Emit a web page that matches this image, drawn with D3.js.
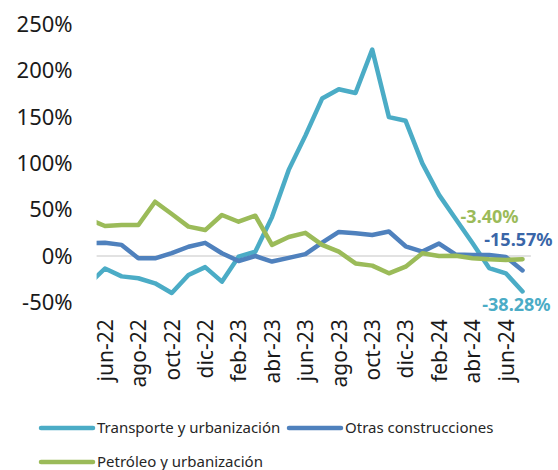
<!DOCTYPE html>
<html lang="es">
<head>
<meta charset="utf-8">
<title>Variación anual</title>
<script src="https://d3js.org/d3.v7.min.js"></script>
<style>
    body { margin: 0; background: #fff; }
    svg text { font-family: "Noto Sans", "Open Sans", sans-serif; }
</style>
</head>
<body>
<svg width="558" height="470" id="mainsvg"></svg>
<script>
    // months (may-22 is only partly visible at the left edge)
    const months = ['may-22', 'jun-22', 'jul-22', 'ago-22', 'sep-22', 'oct-22', 'nov-22', 'dic-22',
        'ene-23', 'feb-23', 'mar-23', 'abr-23', 'may-23', 'jun-23', 'jul-23', 'ago-23', 'sep-23',
        'oct-23', 'nov-23', 'dic-23', 'ene-24', 'feb-24', 'mar-24', 'abr-24', 'may-24', 'jun-24', 'jul-24'];

    const transporte = [-31, -13.5, -22, -24, -29.5, -40, -20.5, -12, -27.7, -0.7, 4.6, 42, 93, 130,
        170, 180, 176, 223, 150, 146, 100, 66, 40, 14, -13, -18.7, -38.28];
    const otras = [13.8, 14.4, 12, -2.5, -2.5, 3, 10, 14.2, 3, -5.4, 0, -6, -2, 2, 14.5, 26, 24.5,
        22.7, 26.5, 10.5, 4.7, 13.4, 1.5, 1, 1, -1, -15.57];
    const petroleo = [40, 32.4, 33.5, 33.5, 58.6, 45.4, 31.7, 28, 44.3, 37, 43.5, 12, 20.5, 25, 12,
        4.7, -8, -10.4, -18.7, -11.5, 3, 0, 0.3, -2.5, -3.6, -4.3, -3.4];

    const yTicks = [-50, 0, 50, 100, 150, 200, 250];
    const xTickLabels = ['jun-22', 'ago-22', 'oct-22', 'dic-22', 'feb-23', 'abr-23', 'jun-23',
        'ago-23', 'oct-23', 'dic-23', 'feb-24', 'abr-24', 'jun-24'];

    const series = [
        { name: 'Transporte y urbanización', values: transporte, color: '#4BACC6', labelColor: '#4BACC6', dx: 28, dy: 13 },
        { name: 'Otras construcciones', values: otras, color: '#4F81BD', labelColor: '#3A66A8', dx: 30, dy: -31 },
        { name: 'Petróleo y urbanización', values: petroleo, color: '#9BBB59', labelColor: '#9BBB59', dx: -4, dy: -43 }
    ];

    const svg = d3.select('#mainsvg');
    const plotLeft = 96.6, plotRight = 530.9, plotTop = 24.5, plotBottom = 302.3;

    const xScale = d3.scaleLinear()
        .domain([0.5, months.length - 0.5])
        .range([plotLeft, plotRight]);
    const yScale = d3.scaleLinear()
        .domain([-50, 250])
        .range([plotBottom, plotTop]);

    svg.append('defs').append('clipPath').attr('id', 'plotclip')
        .append('rect')
        .attr('x', plotLeft).attr('y', 0)
        .attr('width', plotRight - plotLeft).attr('height', 470);

    // y axis (labels only)
    const yAxisGroup = svg.append('g')
        .attr('transform', `translate(${plotLeft}, 0)`)
        .call(d3.axisLeft(yScale).tickValues(yTicks).tickSize(0).tickPadding(24)
            .tickFormat(d => d + '%'));
    yAxisGroup.select('.domain').remove();
    yAxisGroup.selectAll('.tick text')
        .attr('font-size', '22px')
        .attr('fill', '#1a1a1a')
        .attr('font-family', '"Noto Sans", sans-serif');

    // x axis labels, rotated
    const tickIdx = xTickLabels.map(l => months.indexOf(l));
    const xAxisGroup = svg.append('g')
        .attr('transform', `translate(0, ${plotBottom})`)
        .call(d3.axisBottom(xScale).tickValues(tickIdx).tickSize(0)
            .tickFormat(i => months[i]));
    xAxisGroup.select('.domain').remove();
    xAxisGroup.selectAll('.tick text')
        .attr('font-size', '21px')
        .attr('fill', '#1a1a1a')
        .attr('font-family', '"Noto Sans", sans-serif')
        .attr('text-anchor', 'end')
        .attr('transform', 'rotate(-90)')
        .attr('x', -17)
        .attr('y', 0)
        .attr('dy', '0.35em');

    // zero line
    svg.append('line')
        .attr('x1', plotLeft).attr('x2', plotRight)
        .attr('y1', yScale(0)).attr('y2', yScale(0))
        .attr('stroke', '#D9D9D9')
        .attr('stroke-width', 1.5);

    const line = d3.line()
        .x((d, i) => xScale(i))
        .y(d => yScale(d));

    const lines = svg.append('g').attr('clip-path', 'url(#plotclip)');
    series.forEach(s => {
        lines.append('path')
            .datum(s.values)
            .attr('d', line)
            .attr('fill', 'none')
            .attr('stroke', s.color)
            .attr('stroke-width', 4.5)
            .attr('stroke-linejoin', 'round')
            .attr('stroke-linecap', 'round');
    });

    // end labels (plain hyphen, as in the source)
    const last = months.length - 1;
    series.forEach(s => {
        const v = s.values[last];
        svg.append('text')
            .attr('x', xScale(last) + s.dx)
            .attr('y', yScale(v) + s.dy)
            .attr('text-anchor', 'end')
            .attr('dominant-baseline', 'central')
            .attr('font-size', '18px')
            .attr('font-weight', 'bold')
            .attr('fill', s.labelColor)
            .text(v.toFixed(2) + '%');
    });

    // legend
    const legendPos = [[39, 428], [287, 428], [39, 462]];
    series.forEach((s, i) => {
        const [lx, ly] = legendPos[i];
        const lg = svg.append('g').attr('transform', `translate(${lx}, ${ly})`);
        lg.append('line')
            .attr('x1', 2).attr('x2', 54)
            .attr('y1', 0).attr('y2', 0)
            .attr('stroke', s.color)
            .attr('stroke-width', 4.5)
            .attr('stroke-linecap', 'round');
        lg.append('text')
            .attr('x', 58)
            .attr('y', 0)
            .attr('dy', '0.35em')
            .attr('font-size', '15px')
            .attr('fill', '#262626')
            .text(s.name);
    });
</script>
</body>
</html>
